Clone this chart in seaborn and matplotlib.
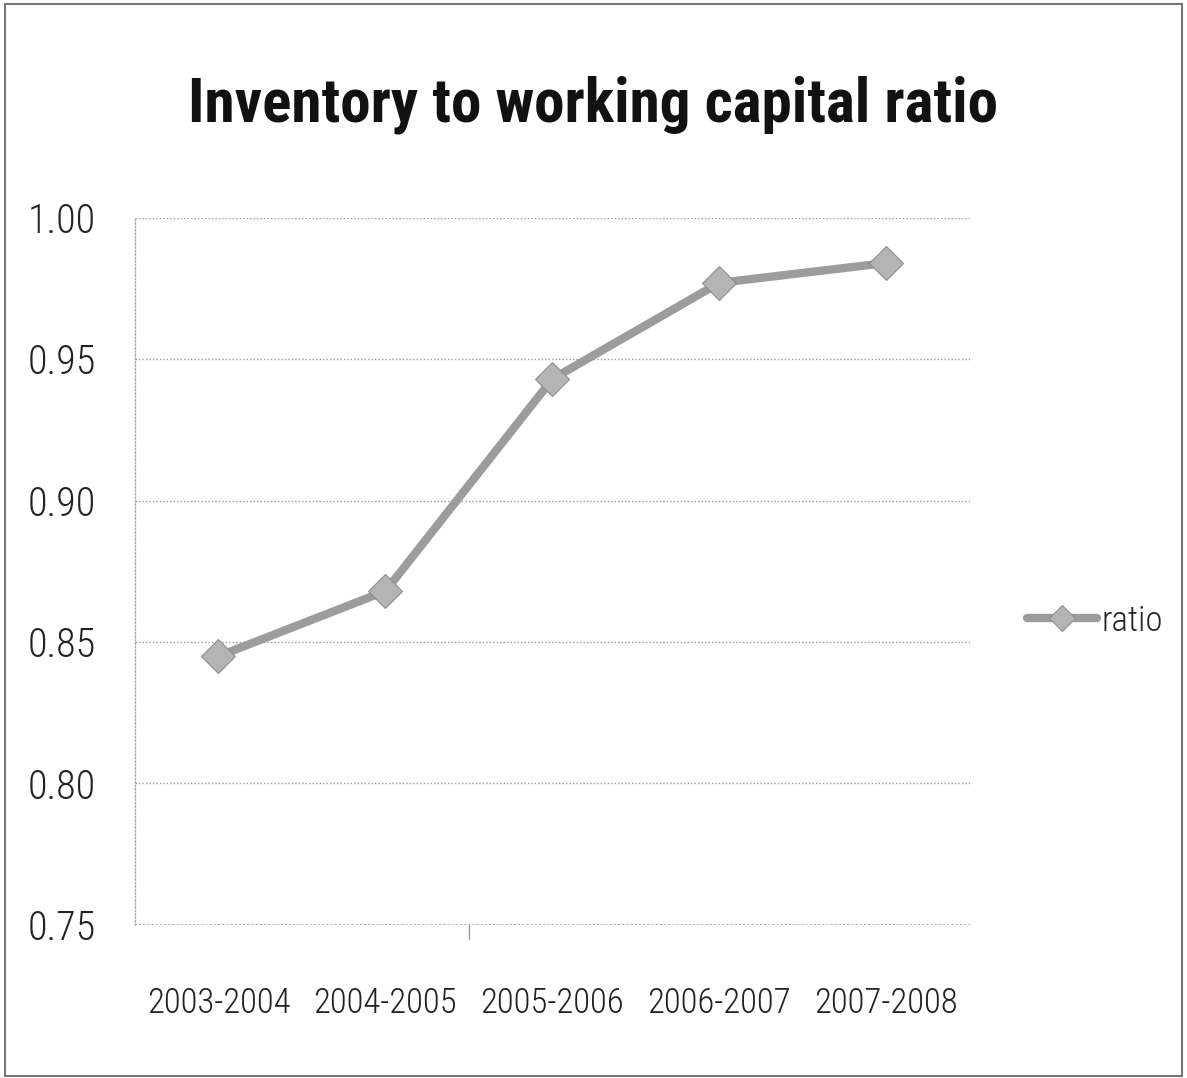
import matplotlib
matplotlib.use("Agg")
import matplotlib.pyplot as plt
import seaborn as sns
import pandas as pd
from matplotlib.patches import Rectangle

periods = ["2003-2004", "2004-2005", "2005-2006", "2006-2007", "2007-2008"]
ratio = [0.845, 0.868, 0.943, 0.977, 0.984]
yticks = [0.75, 0.80, 0.85, 0.90, 0.95, 1.00]

sns.set_style("white")
plt.rcParams['font.family'] = ['Roboto Condensed', 'Lato', 'DejaVu Sans']

df = pd.DataFrame({"period": periods, "ratio": ratio})

fig = plt.figure(figsize=(11.87, 10.78), dpi=100)
ax = fig.add_axes([0.1137, 0.142, 0.7033, 0.656])

sns.lineplot(data=df, x="period", y="ratio", ax=ax, color="#9c9c9c",
             linewidth=6, marker="D", markersize=17, markeredgecolor="#8a8a8a",
             markerfacecolor="#b4b4b4", label="ratio", sort=False)

ax.set_ylim(0.75, 1.00)
ax.set_xlim(-0.5, len(periods) - 0.5)
ax.set_yticks(yticks)
ax.set_yticklabels([f"{v:.2f}" for v in yticks])
ax.yaxis.grid(True, linestyle=(0, (1, 1.5)), color="#9a9a9a", linewidth=1)
ax.xaxis.grid(False)
for s in ["top", "right", "bottom"]:
    ax.spines[s].set_visible(False)
ax.spines["left"].set_color("#aaaaaa")
ax.spines["left"].set_linestyle((0, (1, 1.5)))
ax.spines["left"].set_linewidth(1)
ax.axhline(0.75, color="#999999", linestyle=(0, (1, 1.5)), linewidth=1.2)
ax.set_xlabel("")
ax.set_ylabel("")
ax.tick_params(axis="y", labelsize=29, pad=28, length=0, colors="#222222")
ax.tick_params(axis="x", labelsize=25, pad=44, length=0, colors="#222222")
for lbl in ax.get_xticklabels() + ax.get_yticklabels():
    lbl.set_fontweight("light")
for xb in [1.5]:
    ax.plot([xb, xb], [0.75, 0.745], color="#999999", lw=1, clip_on=False)

leg = ax.legend(loc="center left", bbox_to_anchor=(1.044, 0.43), frameon=False,
                fontsize=25, handlelength=2.0, handletextpad=0.15, markerscale=0.75,
                borderaxespad=0.2)
for t in leg.get_texts():
    t.set_fontweight("light")

fig.text(0.5, 0.903, "Inventory to working capital ratio", ha="center", va="center",
         fontsize=44, fontweight="bold", color="#111111")

fig.patches.append(Rectangle((0.004, 0.002), 0.992, 0.994, transform=fig.transFigure,
                             fill=False, edgecolor="#777777", linewidth=1.5))

fig.savefig("out.png", dpi=100)
